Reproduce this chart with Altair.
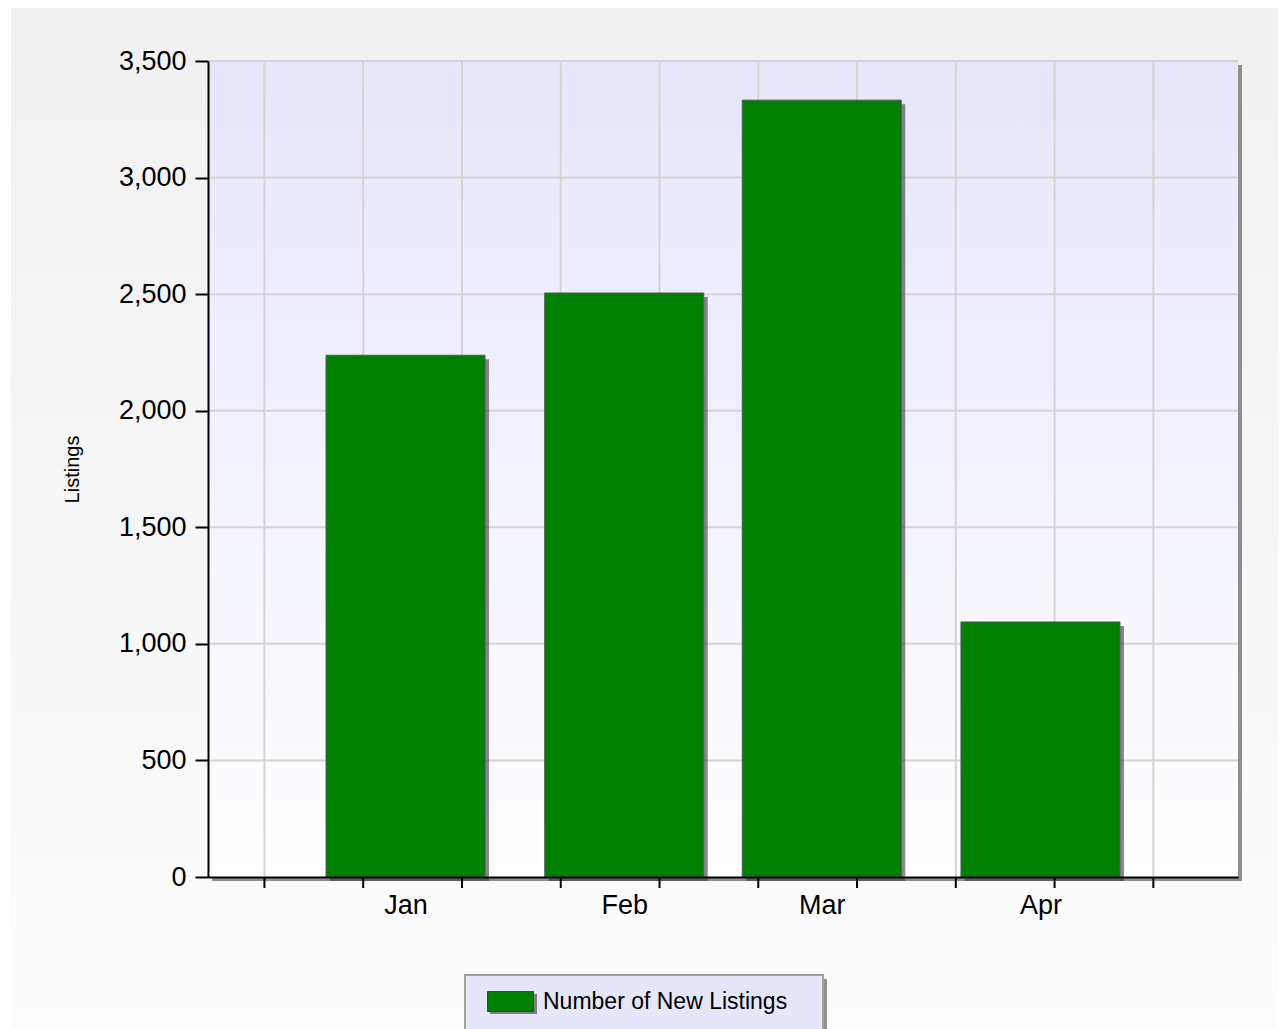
import altair as alt
import pandas as pd

# ---------------- data ----------------
months = ["Jan", "Feb", "Mar", "Apr"]
month_day = [0, 31, 59, 90]            # days after Jan 1
listings = [2238, 2505, 3332, 1094]
series_name = "Number of New Listings"
grid_days = [-20, -6, 8, 22, 36, 50, 64, 78, 92, 106]
y_ticks = [0, 500, 1000, 1500, 2000, 2500, 3000, 3500]
x_domain = [-28, 118]
y_domain = [0, 3500]

W, H = 1030, 816
FONT = "Liberation Sans"

bars_df = pd.DataFrame({
    "month": months,
    "day": month_day,
    "listings": listings,
    "series": [series_name] * len(months),
})
grid_df = pd.DataFrame({"day": grid_days})
ygrid_df = pd.DataFrame({"listings": y_ticks[1:]})
one = pd.DataFrame({"a": [0]})

xs = alt.Scale(domain=x_domain, nice=False, zero=False, padding=0)
ys = alt.Scale(domain=y_domain, nice=False, padding=0)

label_expr = " : ".join(f"datum.value == {d} ? '{m}'" for d, m in zip(month_day, months)) + " : ''"

x_axis = alt.Axis(
    values=month_day, labelExpr=label_expr, ticks=False, tickSize=0, grid=False,
    domainColor="black", domainWidth=2, labelPadding=36, labelBaseline="alphabetic",
    labelFont=FONT, labelFontSize=27, labelColor="black", labelFlush=False,
    labelOverlap=False, title=None, zindex=5,
)
y_axis = alt.Axis(
    values=y_ticks, format=",d", grid=False, domainColor="black", domainWidth=2,
    tickColor="black", tickWidth=2, tickSize=13, labelPadding=9,
    labelFont=FONT, labelFontSize=27, labelColor="black", labelOverlap=False,
    title="Listings", titleFont=FONT, titleFontSize=20, titleFontWeight="normal",
    titleColor="black", titleX=-136, titleY=H / 2, titleAngle=270,
    titleAlign="center", titleBaseline="middle", zindex=5,
)


def X(field):
    return alt.X(f"{field}:Q", scale=xs, axis=x_axis)


def Y(field):
    return alt.Y(f"{field}:Q", scale=ys, axis=y_axis)


def vgrad(top, bottom):
    return alt.Gradient(
        gradient="linear",
        stops=[alt.GradientStop(color=top, offset=0), alt.GradientStop(color=bottom, offset=1)],
        x1=0, x2=0, y1=0, y2=1,
    )


outer_bg = alt.Chart(one).mark_rect(fill=vgrad("#f0f0f0", "#fdfdfd")).encode(
    x=alt.value(-197), x2=alt.value(1078), y=alt.value(-54), y2=alt.value(970)
)
plot_shadow = alt.Chart(one).mark_rect(fill="#8e8e8e").encode(
    x=alt.value(4), x2=alt.value(W + 4), y=alt.value(4), y2=alt.value(H + 4)
)
plot_bg = alt.Chart(one).mark_rect(fill=vgrad("#e6e6fa", "#ffffff")).encode(
    x=alt.value(0), x2=alt.value(W), y=alt.value(0), y2=alt.value(H)
)

vgrid = alt.Chart(grid_df).mark_rule(color="#d4d4d4", strokeWidth=2).encode(
    x=X("day"), y=alt.value(0), y2=alt.value(H)
)
hgrid = alt.Chart(ygrid_df).mark_rule(color="#d4d4d4", strokeWidth=2).encode(
    y=Y("listings"), x=alt.value(0), x2=alt.value(W)
)

bar_shadow = alt.Chart(bars_df).mark_bar(
    orient="vertical", size=159, color="#383838", opacity=0.6, xOffset=4, yOffset=4
).encode(x=X("day"), y=Y("listings"))

bars = alt.Chart(bars_df).mark_bar(
    orient="vertical", size=159, stroke="#4c5c5c", strokeWidth=1
).encode(
    x=X("day"),
    y=Y("listings"),
    color=alt.Color(
        "series:N",
        scale=alt.Scale(domain=[series_name], range=["#008000"]),
        legend=alt.Legend(
            orient="none", legendX=279, legendY=917, title=None, padding=0,
            symbolType="M-1,-0.435L1,-0.435L1,0.435L-1,0.435Z", symbolSize=2116,
            symbolStrokeColor="#2f4f2f", symbolStrokeWidth=1, symbolOpacity=1,
            labelFont=FONT, labelFontSize=23, labelColor="black", labelOffset=9,
            labelLimit=600,
        ),
    ),
)

xticks = alt.Chart(grid_df).mark_rule(color="black", strokeWidth=2).encode(
    x=X("day"), y=alt.value(H), y2=alt.value(H + 11)
)

legend_shadow = alt.Chart(one).mark_rect(fill="#909090").encode(
    x=alt.value(261), x2=alt.value(619), y=alt.value(918), y2=alt.value(980)
)
legend_box = alt.Chart(one).mark_rect(fill="#e6e6fa", stroke="#a0a0a0", strokeWidth=2).encode(
    x=alt.value(257), x2=alt.value(615), y=alt.value(914), y2=alt.value(978)
)
legend_swatch_shadow = alt.Chart(one).mark_rect(fill="#505050", opacity=0.7).encode(
    x=alt.value(282), x2=alt.value(329), y=alt.value(933), y2=alt.value(953)
)

chart = alt.layer(
    outer_bg, plot_shadow, plot_bg, vgrid, hgrid, bar_shadow, bars, xticks,
    legend_shadow, legend_box, legend_swatch_shadow,
).properties(
    width=W, height=H,
    autosize=alt.AutoSizeParams(type="none"),
    padding={"left": 200, "top": 53, "right": 40, "bottom": 152},
    background="white",
).configure_view(stroke=None)

chart.save("out.html", embed_options={"renderer": "svg", "actions": False})
